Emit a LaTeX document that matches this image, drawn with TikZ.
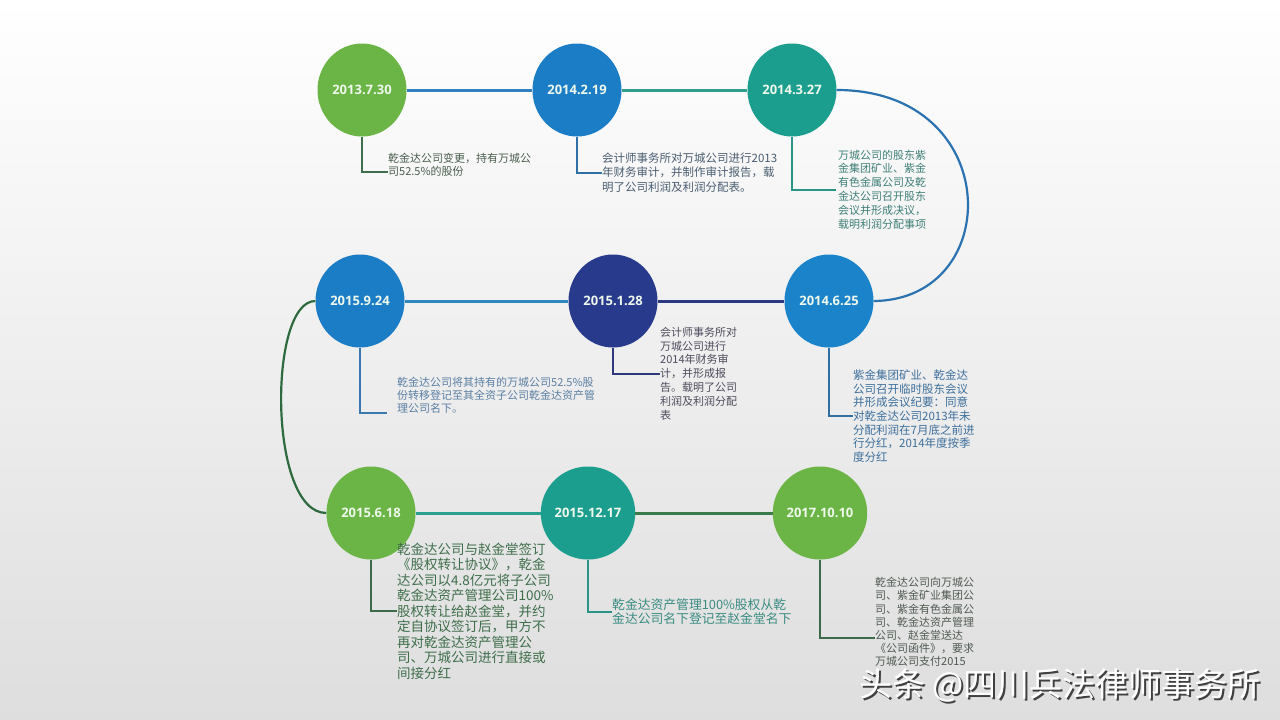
\documentclass[tikz,border=0pt]{standalone}
\usepackage{fontspec}
\setmainfont{Open Sans}
\newfontfamily\datefont{Open Sans}
\newfontfamily\cjkfont{Noto Sans CJK SC}
\usepackage{tikz}
\usetikzlibrary{shapes.geometric,calc,positioning}
\definecolor{leafgreen}{HTML}{6AB545}
\definecolor{seablue}{HTML}{1B7DC6}
\definecolor{tealgreen}{HTML}{1C9E8E}
\definecolor{inkblue}{HTML}{283A8C}
\definecolor{datewhite}{HTML}{EEF8EC}
\definecolor{darkleaf}{HTML}{3D6B4A}
\definecolor{leadblue}{HTML}{2F6FA3}
\definecolor{leadteal}{HTML}{2A9486}
\definecolor{linkblue}{HTML}{2F7FC1}
\definecolor{linkteal}{HTML}{2F9E8E}
\definecolor{curlblue}{HTML}{2A73B0}
\definecolor{linknavy}{HTML}{2D3882}
\definecolor{linksky}{HTML}{2E88BE}
\definecolor{curlgreen}{HTML}{2D6A3E}
\definecolor{linkaqua}{HTML}{2AA08F}
\definecolor{linkgreen}{HTML}{3B7A4A}
\definecolor{leadgreen}{HTML}{3E6E4C}
\definecolor{leadsky}{HTML}{3A78B0}
\definecolor{leadnavy}{HTML}{2F3A7E}
\definecolor{notegreen}{HTML}{4A5E4E}
\definecolor{noteslate}{HTML}{4A5D70}
\definecolor{noteteal}{HTML}{3F7F78}
\definecolor{notesky}{HTML}{5B7FA3}
\definecolor{notegray}{HTML}{4D4D5E}
\definecolor{noteblue}{HTML}{3D6F9C}
\definecolor{noteleaf}{HTML}{3F6E4B}
\definecolor{noteaqua}{HTML}{3A8C82}
\definecolor{notestone}{HTML}{505A52}

\begin{document}
\begin{tikzpicture}[
  x=1pt, y=-1pt,
  date/.style={ellipse, minimum width=89pt, minimum height=93pt, inner sep=0pt, font=\datefont\bfseries\fontsize{13}{15}\selectfont, text=datewhite},
  note/.style={anchor=west, align=left, inner sep=0pt, font=\cjkfont\fontsize{11}{13.8}\selectfont},
  link/.style={line width=3pt},
  curl/.style={line width=2.2pt},
  lead/.style={line width=2pt},
  wmtext/.style={inner sep=0pt, font=\cjkfont\fontsize{33}{36}\selectfont}
]
\useasboundingbox (0,0) rectangle (1280,720);
\shade[top color=white, middle color=black!3, bottom color=black!13] (0,0) rectangle (1280,720);
% date circles
\node[date, fill=leafgreen] (jul13) at (362,90) {2013.7.30};
\node[date, fill=seablue] (feb14) at (577,90) {2014.2.19};
\node[date, fill=tealgreen] (mar14) at (792,90) {2014.3.27};
\node[date, fill=seablue] (sep15) at (360,301) {2015.9.24};
\node[date, fill=inkblue] (jan15) at (613,301) {2015.1.28};
\node[date, fill=seablue!95!cyan] (jun14) at (829,301) {2014.6.25};
\node[date, fill=leafgreen] (jun15) at (371,513) {2015.6.18};
\node[date, fill=tealgreen] (dec15) at (588,513) {2015.12.17};
\node[date, fill=leafgreen] (oct17) at (820,513) {2017.10.10};
% timeline
\draw[link, draw=linkblue] (jul13) -- (feb14);
\draw[link, draw=linkteal] (feb14) -- (mar14);
\draw[curl, draw=curlblue] (mar14.east) .. controls (1005,90) and (1005,300) .. (jun14.east);
\draw[link, draw=linknavy] (jun14) -- (jan15);
\draw[link, draw=linksky] (jan15) -- (sep15);
\draw[curl, draw=curlgreen] (sep15.west) .. controls (268,301) and (268,513) .. (jun15.west);
\draw[link, draw=linkaqua] (jun15) -- (dec15);
\draw[link, draw=linkgreen] (dec15) -- (oct17);
% notes
\node[note, text=notegreen, font=\cjkfont\fontsize{11}{13}\selectfont] (njul13) at (388,164.5) {乾金达公司变更，持有万城公\\司52.5\%的股份};
\node[note, text=noteslate, font=\cjkfont\fontsize{11.5}{14.5}\selectfont] (nfeb14) at (602,172.5) {会计师事务所对万城公司进行2013\\年财务审计，并制作审计报告，载\\明了公司利润及利润分配表。};
\node[note, text=noteteal] (nmar14) at (838,189.5) {万城公司的股东紫\\金集团矿业、紫金\\有色金属公司及乾\\金达公司召开股东\\会议并形成决议，\\载明利润分配事项};
\node[note, text=notesky, font=\cjkfont\fontsize{11}{13}\selectfont] (nsep15) at (397,395) {乾金达公司将其持有的万城公司52.5\%股\\份转移登记至其全资子公司乾金达资产管\\理公司名下。};
\node[note, text=notegray] (njan15) at (660,373.5) {会计师事务所对\\万城公司进行\\2014年财务审\\计，并形成报\\告。载明了公司\\利润及利润分配\\表};
\node[note, text=noteblue, font=\cjkfont\fontsize{11.5}{13.7}\selectfont] (njun14) at (853,416) {紫金集团矿业、乾金达\\公司召开临时股东会议\\并形成会议纪要：同意\\对乾金达公司2013年未\\分配利润在7月底之前进\\行分红，2014年度按季\\度分红};
\node[note, text=noteleaf, font=\cjkfont\fontsize{13.5}{15.5}\selectfont] (njun15) at (397,611) {乾金达公司与赵金堂签订\\《股权转让协议》，乾金\\达公司以4.8亿元将子公司\\乾金达资产管理公司100\%\\股权转让给赵金堂，并约\\定自协议签订后，甲方不\\再对乾金达资产管理公\\司、万城公司进行直接或\\间接分红};
\node[note, text=noteaqua, font=\cjkfont\fontsize{12.8}{14}\selectfont] (ndec15) at (612,612) {乾金达资产管理100\%股权从乾\\金达公司名下登记至赵金堂名下};
\node[note, text=notestone, font=\cjkfont\fontsize{11}{13.2}\selectfont] (noct17) at (875,622) {乾金达公司向万城公\\司、紫金矿业集团公\\司、紫金有色金属公\\司、乾金达资产管理\\公司、赵金堂送达\\《公司函件》，要求\\万城公司支付2015};
% leaders
\draw[lead, draw=leadgreen] (jul13.south) |- ([yshift=-7pt]njul13.west);
\draw[lead, draw=leadblue] (feb14.south) |- (nfeb14.west);
\draw[lead, draw=leadteal] (mar14.south) |- ([xshift=-2pt]nmar14.west);
\draw[lead, draw=leadsky] (sep15.south) |- ([xshift=-10pt,yshift=-18pt]nsep15.west);
\draw[lead, draw=leadnavy] (jan15.south) |- (njan15.west);
\draw[lead, draw=leadblue] (jun14.south) |- (njun14.west);
\draw[lead, draw=darkleaf] (jun15.south) |- (njun15.west);
\draw[lead, draw=leadteal] (dec15.south) |- (ndec15.west);
\draw[lead, draw=darkleaf] (oct17.south) |- ([yshift=-16pt]noct17.west);
% watermark
\node[wmtext, text=black!75] (wmshadow) at (1062,687) {头条 @四川兵法律师事务所};
\node[wmtext, text=white] (wm) at (1060,685) {头条 @四川兵法律师事务所};
\end{tikzpicture}
\end{document}
